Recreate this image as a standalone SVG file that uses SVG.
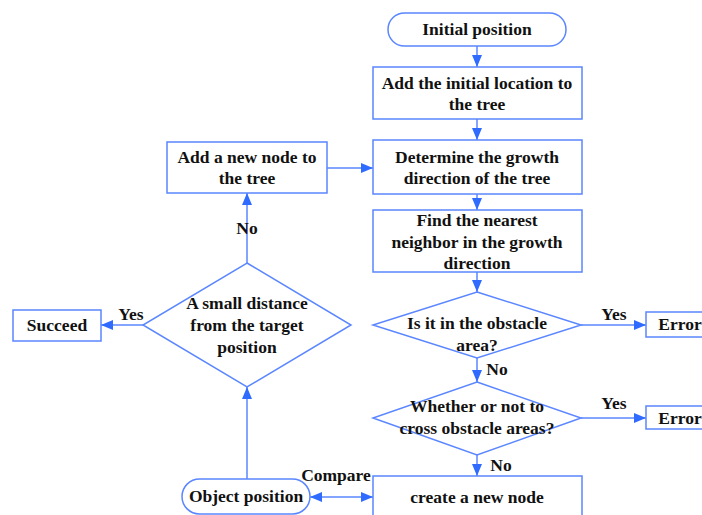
<svg xmlns="http://www.w3.org/2000/svg" width="702" height="515" viewBox="0 0 702 515">
<style>
  .shape { fill: #ffffff; stroke: #5a86ff; stroke-width: 1.5; }
  .line { fill: none; stroke: #5a86ff; stroke-width: 1.5; }
  text { font-family: 'Liberation Serif', 'Times New Roman', serif; font-weight: bold; font-size: 17.5px; fill: #111111; text-anchor: middle; }
</style>
<defs>
  <marker id="arrow" viewBox="0 0 12 10" refX="12" refY="5" markerWidth="12" markerHeight="10" markerUnits="userSpaceOnUse" orient="auto-start-reverse">
    <path d="M0,0 L12,5 L0,10 Z" fill="#2f6bff"/>
  </marker>
</defs>
<rect width="702" height="515" fill="#ffffff"/>

<g id="connectors">
  <line class="line" x1="477" y1="46" x2="477" y2="67" marker-end="url(#arrow)"/>
  <line class="line" x1="477" y1="119" x2="477" y2="140" marker-end="url(#arrow)"/>
  <line class="line" x1="477" y1="194" x2="477" y2="210" marker-end="url(#arrow)"/>
  <line class="line" x1="477" y1="272" x2="477" y2="292" marker-end="url(#arrow)"/>
  <line class="line" x1="477" y1="358" x2="477" y2="382" marker-end="url(#arrow)"/>
  <line class="line" x1="477" y1="455" x2="477" y2="476" marker-end="url(#arrow)"/>
  <line class="line" x1="581" y1="325" x2="646" y2="325" marker-end="url(#arrow)"/>
  <line class="line" x1="581" y1="418" x2="646" y2="418" marker-end="url(#arrow)"/>
  <line class="line" x1="327" y1="168" x2="373" y2="168" marker-end="url(#arrow)"/>
  <line class="line" x1="247" y1="263" x2="247" y2="193" marker-end="url(#arrow)"/>
  <line class="line" x1="143" y1="325" x2="101" y2="325" marker-end="url(#arrow)"/>
  <line class="line" x1="247" y1="479" x2="247" y2="387" marker-end="url(#arrow)"/>
  <line class="line" x1="310" y1="497" x2="373" y2="497" marker-start="url(#arrow)" marker-end="url(#arrow)"/>
  <text x="614" y="320">Yes</text>
  <text x="614" y="409">Yes</text>
  <text x="497" y="375">No</text>
  <text x="501" y="471">No</text>
  <text x="247" y="234">No</text>
  <text x="131" y="320">Yes</text>
  <text x="336" y="481">Compare</text>
</g>

<g id="start">
  <rect class="shape" x="388" y="13" width="178" height="33" rx="16.5"/>
  <text x="477" y="35">Initial position</text>
</g>

<g id="add-initial">
  <rect class="shape" x="373" y="67" width="209" height="52"/>
  <text x="477" y="89">Add the initial location to</text>
  <text x="477" y="110">the tree</text>
</g>

<g id="growth-direction">
  <rect class="shape" x="373" y="140" width="209" height="54"/>
  <text x="477" y="163">Determine the growth</text>
  <text x="477" y="184">direction of the tree</text>
</g>

<g id="nearest-neighbor">
  <rect class="shape" x="373" y="210" width="209" height="62"/>
  <text x="477" y="226">Find the nearest</text>
  <text x="477" y="248">neighbor in the growth</text>
  <text x="477" y="269">direction</text>
</g>

<g id="in-obstacle">
  <polygon class="shape" points="477,292 581,325 477,358 373,325"/>
  <text x="477" y="329">Is it in the obstacle</text>
  <text x="477" y="351">area?</text>
</g>

<g id="error-1">
  <rect class="shape" x="646" y="312" width="70" height="25"/>
  <text x="680" y="330">Error</text>
</g>

<g id="cross-obstacle">
  <polygon class="shape" points="477,382 581,418 477,455 373,418"/>
  <text x="477" y="412">Whether or not to</text>
  <text x="477" y="434">cross obstacle areas?</text>
</g>

<g id="error-2">
  <rect class="shape" x="646" y="406" width="70" height="23"/>
  <text x="680" y="424">Error</text>
</g>

<g id="create-node">
  <rect class="shape" x="373" y="476" width="209" height="50"/>
  <text x="477" y="503">create a new node</text>
</g>

<g id="add-new-node">
  <rect class="shape" x="167" y="142" width="160" height="51"/>
  <text x="247" y="163">Add a new node to</text>
  <text x="247" y="184">the tree</text>
</g>

<g id="distance-check">
  <polygon class="shape" points="247,263 351,325 247,387 143,325"/>
  <text x="247" y="309">A small distance</text>
  <text x="247" y="331">from the target</text>
  <text x="247" y="353">position</text>
</g>

<g id="succeed">
  <rect class="shape" x="13" y="310" width="88" height="31"/>
  <text x="57" y="331">Succeed</text>
</g>

<g id="object-position">
  <rect class="shape" x="182" y="479" width="128" height="35" rx="17.5"/>
  <text x="246" y="502">Object position</text>
</g>
</svg>
